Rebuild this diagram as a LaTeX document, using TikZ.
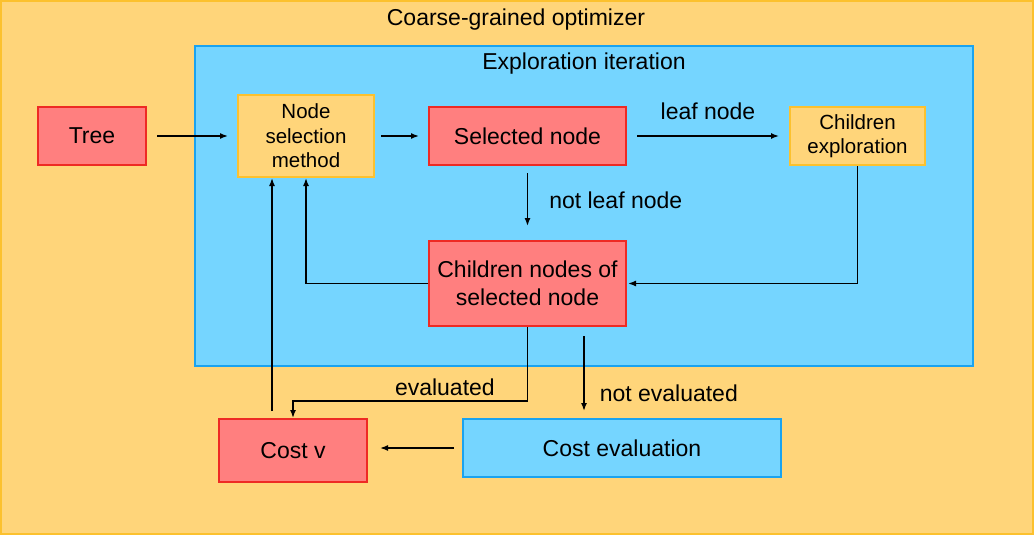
\documentclass[tikz,border=0pt]{standalone}
\usepackage{fontspec}
\setmainfont{Liberation Sans}
\usetikzlibrary{arrows.meta}
\definecolor{ofill}{HTML}{FFD57A}
\definecolor{oline}{HTML}{FCC12E}
\definecolor{bfill}{HTML}{75D5FF}
\definecolor{bline}{HTML}{1AA3F0}
\definecolor{rfill}{HTML}{FF7F7F}
\definecolor{rline}{HTML}{EE2A24}
\begin{document}
\begin{tikzpicture}[x=1pt,y=-1pt,
  redbox/.style={draw=rline,fill=rfill,line width=2pt,inner sep=0pt,align=center,font=\fontsize{23}{28}\selectfont},
  orbox/.style={draw=oline,fill=ofill,line width=2pt,inner sep=0pt,align=center,font=\fontsize{20.5}{24.5}\selectfont},
  bluebox/.style={draw=bline,fill=bfill,line width=2pt,inner sep=0pt,align=center,font=\fontsize{23}{28}\selectfont},
  arr/.style={-{Latex[length=8pt,width=6pt]},line width=1.5pt},
  lbl/.style={font=\fontsize{23}{28}\selectfont,inner sep=0pt}]
\useasboundingbox (0,0) rectangle (1034,535);
\draw[draw=oline,fill=ofill,line width=2pt] (1,1) rectangle (1033,534);
\node[lbl] (title) at (516,20) {Coarse-grained optimizer};
\draw[draw=bline,fill=bfill,line width=2pt] (195,46) rectangle (973,366);
\node[lbl] (exptitle) at (584,64) {Exploration iteration};
\node[redbox,minimum width=108pt,minimum height=58pt] (tree) at (92,136) {Tree};
\node[orbox,minimum width=136pt,minimum height=82pt] (nsm) at (306,136) {Node\\selection\\method};
\node[redbox,minimum width=197pt,minimum height=58pt] (sel) at (527.5,136) {Selected node};
\node[orbox,minimum width=135pt,minimum height=58pt] (ce) at (857.5,136) {Children\\exploration};
\node[redbox,minimum width=197pt,minimum height=85pt] (cn) at (527.5,283.5) {Children nodes of\\selected node};
\node[redbox,minimum width=148pt,minimum height=63pt] (cv) at (293,450.5) {Cost v};
\node[bluebox,minimum width=318pt,minimum height=58pt] (cev) at (622,448) {Cost evaluation};
\coordinate (nes) at (584,336);
\coordinate (nee) at (584,411);
\draw[arr,shorten <=10pt,shorten >=9pt] (tree) -- (nsm);
\draw[arr,shorten <=6pt,shorten >=9pt] (nsm) -- (sel);
\draw[arr,shorten <=10pt,shorten >=10pt] (sel) -- (ce) node[lbl,midway,yshift=25pt] {leaf node};
\draw[arr,shorten <=7pt,shorten >=14pt] (sel) -- (cn) node[lbl,pos=0.46,anchor=west,xshift=21pt] {not leaf node};
\draw[arr,shorten >=1pt] (ce.south) |- (cn.east);
\draw[arr] (cn.west) -| (nsm.south);
\draw[arr,shorten <=7pt] ([xshift=-21pt]cv.north) -- ([xshift=-21pt]cv.north |- nsm.south);
\draw[arr] (cn.south) -- ++(0,74) node[lbl,pos=1,anchor=south east,xshift=-32pt,yshift=5pt] {evaluated} -| (cv.north);
\draw[arr] (nes) -- (nee) node[lbl,pos=0.76,anchor=west,xshift=15pt] {not evaluated};
\draw[arr,shorten <=8pt,shorten >=12pt] (cev.west) -- (cev.west -| cv.east);
\end{tikzpicture}
\end{document}
